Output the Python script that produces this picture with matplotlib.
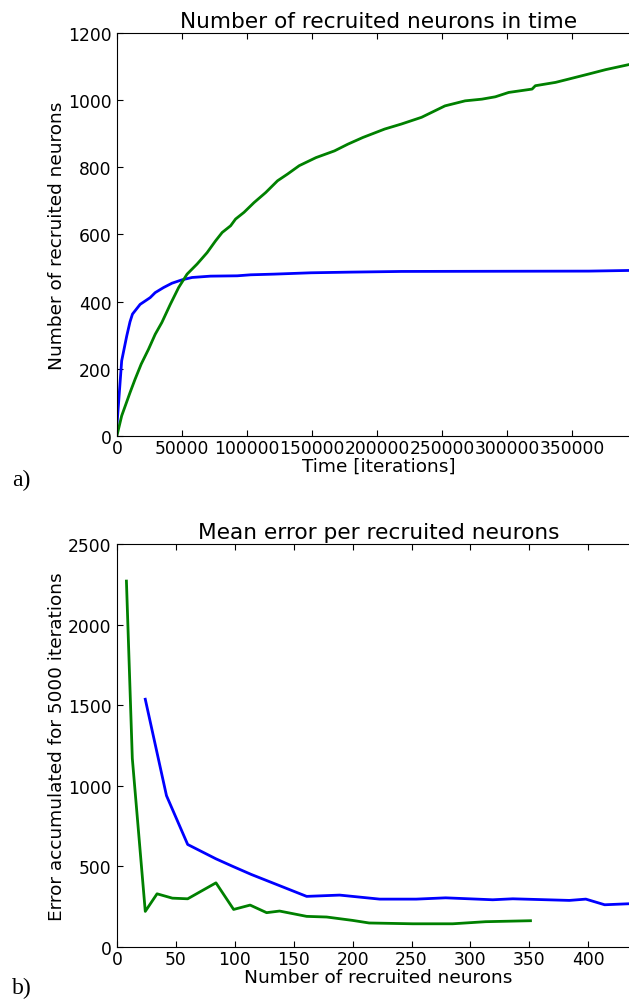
import numpy as np
import matplotlib
matplotlib.use("Agg")
import matplotlib.pyplot as plt

# Recruited neurons vs time (panel a)
t_blue = [0, 3600, 7500, 10000, 11900, 17800, 25500, 29400, 35800, 42300, 50000,
          57700, 71900, 92500, 102800, 120900, 149200, 180000, 218800, 363000, 395000]
n_blue = [35, 224, 298, 340, 363, 392, 412, 427, 442, 455, 465,
          472, 476, 477, 480, 482, 486, 488, 490, 491, 493]

t_green = [0, 3600, 10000, 13900, 18600, 24200, 29400, 34500, 41000, 47400, 53900,
           61600, 69300, 75800, 80900, 87400, 91200, 97700, 105400, 114400, 123500,
           131200, 140200, 153100, 167300, 177600, 189200, 205900, 218800, 234300,
           252300, 267800, 280700, 291000, 301300, 319300, 321800, 337400, 347700,
           363000, 376000, 395000]
n_green = [2, 60, 129, 169, 214, 258, 303, 338, 392, 442, 482,
           512, 546, 581, 606, 626, 646, 666, 695, 725, 760,
           780, 805, 829, 849, 869, 889, 914, 929, 949,
           983, 998, 1003, 1010, 1023, 1033, 1043, 1053, 1063,
           1078, 1091, 1107]

# Mean error per recruited neurons (panel b)
k_green = [8, 13, 24, 34, 47, 60, 84, 99, 113, 127, 138, 161, 178, 200, 214,
           251, 285, 313, 351]
e_green = [2270, 1170, 221, 330, 303, 299, 398, 233, 260, 213, 223, 190, 186,
           165, 149, 144, 144, 157, 163]

k_blue = [24, 42, 60, 84, 98, 114, 161, 189, 223, 254, 279, 319, 336, 384,
          398, 414, 440]
e_blue = [1537, 939, 636, 547, 501, 450, 314, 322, 297, 297, 305, 293, 299,
          289, 297, 262, 270]

plt.rcParams['font.family'] = 'DejaVu Sans'
plt.rcParams['xtick.direction'] = 'in'
plt.rcParams['ytick.direction'] = 'in'
plt.rcParams['xtick.top'] = True
plt.rcParams['ytick.right'] = True
plt.rcParams['xtick.major.size'] = 4
plt.rcParams['ytick.major.size'] = 4
plt.rcParams['xtick.major.pad'] = 2
plt.rcParams['ytick.major.pad'] = 4

fig = plt.figure(figsize=(6.29, 10.03), dpi=100)
W = 629.0
H = 1003.0
ax_w = (640 - 117) / W
ax_h = 403 / H

ax1 = fig.add_axes([117 / W, 1 - 437 / H, ax_w, ax_h])
ax1.plot(t_blue, n_blue, color='#0000ff', lw=2)
ax1.plot(t_green, n_green, color='#008000', lw=2)
ax1.set_xlim(0, (640 - 117) / 65.0 * 50000)
ax1.set_ylim(0, 1200)
ax1.set_xticks(np.arange(0, 350001, 50000))
ax1.set_yticks(np.arange(0, 1201, 200))
ax1.tick_params(labelsize=12.3)
ax1.set_title("Number of recruited neurons in time", fontsize=15.6, pad=4)
ax1.set_xlabel("Time [iterations]", fontsize=13.3, labelpad=0)
ax1.set_ylabel("Number of recruited neurons", fontsize=13.3, labelpad=1)

ax2 = fig.add_axes([117 / W, 1 - 948 / H, ax_w, ax_h])
ax2.plot(k_blue, e_blue, color='#0000ff', lw=2)
ax2.plot(k_green, e_green, color='#008000', lw=2)
ax2.set_xlim(0, (640 - 117) / 1.178)
ax2.set_ylim(0, 2500)
ax2.set_xticks(np.arange(0, 401, 50))
ax2.set_yticks(np.arange(0, 2501, 500))
ax2.tick_params(labelsize=12.3)
ax2.set_title("Mean error per recruited neurons", fontsize=15.6, pad=4)
ax2.set_xlabel("Number of recruited neurons", fontsize=13.3, labelpad=0)
ax2.set_ylabel("Error accumulated for 5000 iterations", fontsize=13.3, labelpad=1)

fig.text(12 / W, 1 - 480 / H, "a)", family='Liberation Serif', fontsize=17, va='center')
fig.text(12 / W, 1 - 988 / H, "b)", family='Liberation Serif', fontsize=17, va='center')

fig.savefig("out.png", dpi=100)
